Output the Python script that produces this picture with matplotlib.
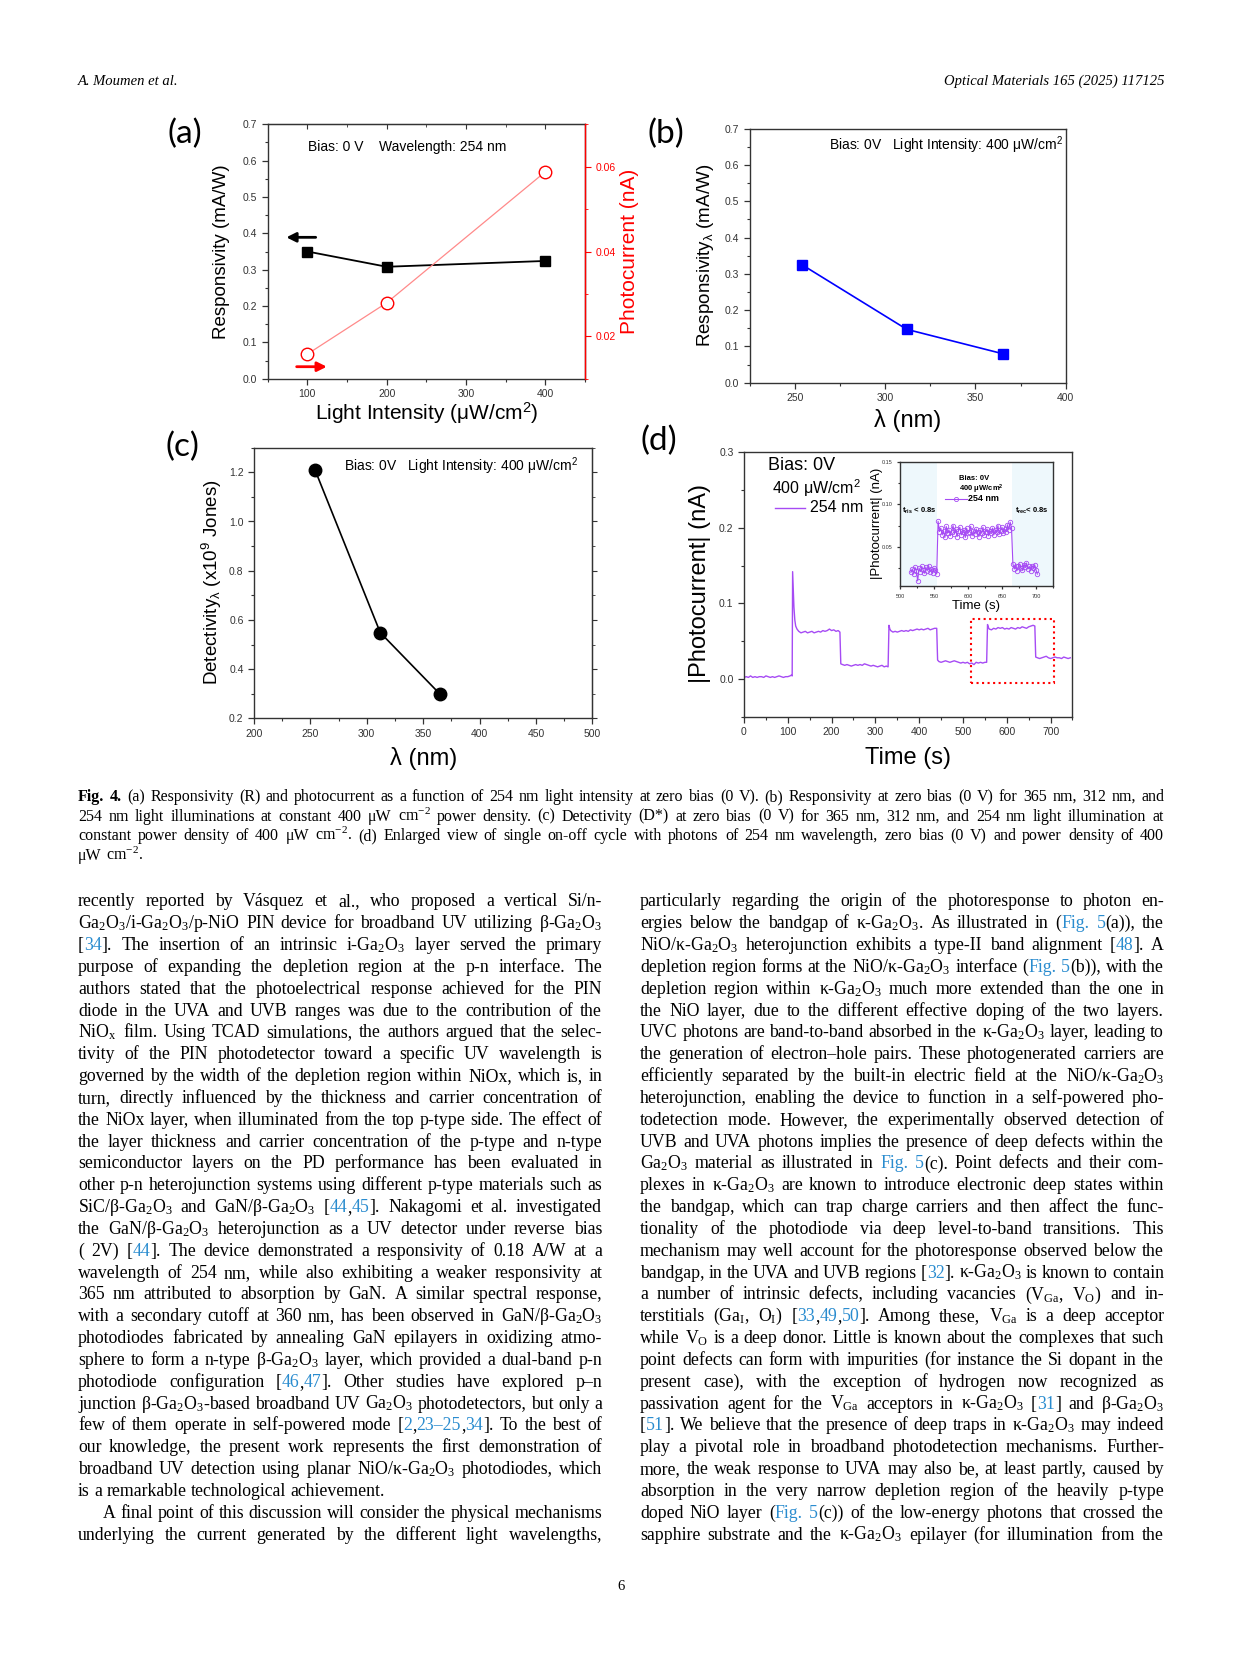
import matplotlib
matplotlib.use("Agg")
import matplotlib.pyplot as plt
from matplotlib.ticker import MultipleLocator
from matplotlib.patches import Rectangle
from matplotlib.lines import Line2D

plt.rcParams['font.family'] = ['Liberation Sans', 'DejaVu Sans']
plt.rcParams['mathtext.fontset'] = 'custom'
plt.rcParams['mathtext.rm'] = 'Liberation Sans'
plt.rcParams['mathtext.default'] = 'regular'

W, H = 1241, 1654
CITE = '#2a8ccf'
VIOLET = '#a64bf4'
SERIF = 'Liberation Serif'

# ---- data ----
intensity = [100, 200, 400]
resp_a = [0.350, 0.308, 0.324]
photo_a = [0.0158, 0.0279, 0.0588]

wavelength = [254, 312, 365]
resp_b = [0.325, 0.147, 0.080]
detect_c = [1.211, 0.548, 0.298]

d_time = [0, 5, 10, 15, 20, 25, 30, 35, 40, 45, 50, 55, 60, 65, 70, 75, 80, 85, 90, 95, 100, 105, 108,
          110, 111, 112, 114, 116, 118, 121, 125,
          130, 135, 140, 145, 150, 155, 160, 165, 170, 175, 180, 185, 190, 195, 200, 205, 210, 215, 219,
          221, 225, 230, 235, 240, 245, 250, 255, 260, 265, 270, 275, 280, 285, 290, 295, 300, 305, 310, 315,
          320, 325, 329,
          331, 333, 335, 340, 345, 350, 355, 360, 365, 370, 375, 380, 385, 390, 395, 400, 405, 410, 415, 420,
          425, 430, 435, 440,
          442, 445, 450, 455, 460, 465, 470, 475, 480, 485, 490, 495, 500, 505, 510, 515, 520, 525, 530, 535,
          540, 545, 550, 554,
          556, 558, 560, 565, 570, 575, 580, 585, 590, 595, 600, 605, 610, 615, 620, 625, 630, 635, 640, 645,
          650, 655, 660, 664,
          666, 670, 675, 680, 685, 690, 695, 700, 705, 710, 715, 720, 725, 730, 735, 740, 745]
d_current = [0.002, 0.003, 0.002, 0.004, 0.002, 0.003, 0.002, 0.003, 0.003, 0.002, 0.004, 0.003, 0.002, 0.003,
             0.002, 0.003, 0.004, 0.003, 0.002, 0.003, 0.003, 0.004, 0.005,
             0.004, 0.142, 0.125, 0.095, 0.078, 0.070, 0.066, 0.063,
             0.061, 0.062, 0.063, 0.061, 0.062, 0.063, 0.061, 0.062, 0.063, 0.062, 0.064, 0.063, 0.064, 0.066,
             0.064, 0.065, 0.063, 0.064, 0.062,
             0.020, 0.019, 0.018, 0.019, 0.018, 0.017, 0.018, 0.019, 0.018, 0.019, 0.018, 0.020, 0.019, 0.018,
             0.017, 0.018, 0.017, 0.016, 0.017, 0.018, 0.016, 0.017, 0.016,
             0.071, 0.066, 0.064, 0.062, 0.063, 0.062, 0.063, 0.064, 0.063, 0.064, 0.063, 0.065, 0.064, 0.065,
             0.066, 0.065, 0.066, 0.065, 0.066, 0.067, 0.065, 0.066, 0.067, 0.067,
             0.025, 0.023, 0.022, 0.023, 0.024, 0.023, 0.022, 0.023, 0.024, 0.023, 0.022, 0.021, 0.022, 0.021,
             0.022, 0.020, 0.021, 0.019, 0.022, 0.021, 0.022, 0.021, 0.022, 0.022,
             0.072, 0.068, 0.066, 0.065, 0.067, 0.066, 0.068, 0.067, 0.068, 0.066, 0.067, 0.066, 0.068, 0.067,
             0.066, 0.068, 0.067, 0.069, 0.068, 0.067, 0.069, 0.070, 0.071, 0.070,
             0.029, 0.028, 0.027, 0.028, 0.029, 0.030, 0.028, 0.027, 0.028, 0.029, 0.028, 0.028, 0.027, 0.029,
             0.028, 0.027, 0.028]

in_time = [516, 518, 520, 522, 524, 526, 528, 530, 532, 534, 536, 538, 540, 542, 544, 546, 548, 550, 552, 554,
           556, 558,
           560, 562, 564, 566, 568, 570, 572, 574, 576, 578, 580, 582, 584, 586, 588, 590, 592, 594, 596, 598,
           600, 602, 604, 606, 608, 610, 612, 614, 616, 618, 620, 622, 624, 626, 628, 630, 632, 634, 636, 638,
           640, 642, 644, 646, 648, 650, 652, 654, 656, 658, 660, 662, 664,
           666, 668, 670, 672, 674, 676, 678, 680, 682, 684, 686, 688, 690, 692, 694, 696, 698, 700, 702]
in_current = [0.020, 0.024, 0.018, 0.026, 0.022, 0.010, 0.025, 0.021, 0.027, 0.023, 0.019, 0.026, 0.022, 0.028,
              0.021, 0.024, 0.019, 0.025, 0.023, 0.018,
              0.080, 0.068,
              0.072, 0.064, 0.069, 0.061, 0.074, 0.066, 0.070, 0.063, 0.068, 0.075, 0.065, 0.071, 0.062, 0.069,
              0.073, 0.064, 0.067, 0.070, 0.061, 0.072, 0.066, 0.068, 0.074, 0.063, 0.069, 0.065, 0.071, 0.067,
              0.062, 0.070, 0.066, 0.073, 0.064, 0.068, 0.071, 0.063, 0.069, 0.066, 0.072, 0.064, 0.070, 0.067,
              0.075, 0.065, 0.069, 0.073, 0.066, 0.071, 0.068, 0.076, 0.070, 0.079, 0.072,
              0.030, 0.024, 0.028, 0.022, 0.027, 0.030, 0.025, 0.023, 0.029, 0.026, 0.031, 0.024, 0.027, 0.022,
              0.028, 0.025, 0.029, 0.023, 0.018]

zoom_box = (518, -0.006, 707, 0.0796)   # t0, y0, t1, y1 of the dotted frame

# ---- page text (one entry per printed line) ----
caption_lines = [
    "%Fig. 4.% (a) Responsivity (R) and photocurrent as a function of 254 nm light intensity at zero bias (0 V). (b) Responsivity at zero bias (0 V) for 365 nm, 312 nm, and",
    "254 nm light illuminations at constant 400 μW cm$^{-2}$ power density. (c) Detectivity (D*) at zero bias (0 V) for 365 nm, 312 nm, and 254 nm light illumination at",
    "constant power density of 400 μW cm$^{-2}$. (d) Enlarged view of single on-off cycle with photons of 254 nm wavelength, zero bias (0 V) and power density of 400",
    "μW cm$^{-2}$.",
]

left_lines = [
    "recently reported by Vásquez et al., who proposed a vertical Si/n-",
    "Ga$_2$O$_3$/i-Ga$_2$O$_3$/p-NiO PIN device for broadband UV utilizing β-Ga$_2$O$_3$",
    "[@34@]. The insertion of an intrinsic i-Ga$_2$O$_3$ layer served the primary",
    "purpose of expanding the depletion region at the p-n interface. The",
    "authors stated that the photoelectrical response achieved for the PIN",
    "diode in the UVA and UVB ranges was due to the contribution of the",
    "NiO$_x$ film. Using TCAD simulations, the authors argued that the selec-",
    "tivity of the PIN photodetector toward a specific UV wavelength is",
    "governed by the width of the depletion region within NiOx, which is, in",
    "turn, directly influenced by the thickness and carrier concentration of",
    "the NiOx layer, when illuminated from the top p-type side. The effect of",
    "the layer thickness and carrier concentration of the p-type and n-type",
    "semiconductor layers on the PD performance has been evaluated in",
    "other p-n heterojunction systems using different p-type materials such as",
    "SiC/β-Ga$_2$O$_3$ and GaN/β-Ga$_2$O$_3$ [@44@,@45@]. Nakagomi et al. investigated",
    "the GaN/β-Ga$_2$O$_3$ heterojunction as a UV detector under reverse bias",
    "( 2V) [@44@]. The device demonstrated a responsivity of 0.18 A/W at a",
    "wavelength of 254 nm, while also exhibiting a weaker responsivity at",
    "365 nm attributed to absorption by GaN. A similar spectral response,",
    "with a secondary cutoff at 360 nm, has been observed in GaN/β-Ga$_2$O$_3$",
    "photodiodes fabricated by annealing GaN epilayers in oxidizing atmo-",
    "sphere to form a n-type β-Ga$_2$O$_3$ layer, which provided a dual-band p-n",
    "photodiode configuration [@46@,@47@]. Other studies have explored p–n",
    "junction β-Ga$_2$O$_3$-based broadband UV Ga$_2$O$_3$ photodetectors, but only a",
    "few of them operate in self-powered mode [@2@,@23–25@,@34@]. To the best of",
    "our knowledge, the present work represents the first demonstration of",
    "broadband UV detection using planar NiO/κ-Ga$_2$O$_3$ photodiodes, which",
    "is a remarkable technological achievement.",
    "A final point of this discussion will consider the physical mechanisms",
    "underlying the current generated by the different light wavelengths,",
]
left_last = [27]      # paragraph ends: not justified
left_indent = [28]

right_lines = [
    "particularly regarding the origin of the photoresponse to photon en-",
    "ergies below the bandgap of κ-Ga$_2$O$_3$. As illustrated in (@Fig. 5@(a)), the",
    "NiO/κ-Ga$_2$O$_3$ heterojunction exhibits a type-II band alignment [@48@]. A",
    "depletion region forms at the NiO/κ-Ga$_2$O$_3$ interface (@Fig. 5@(b)), with the",
    "depletion region within κ-Ga$_2$O$_3$ much more extended than the one in",
    "the NiO layer, due to the different effective doping of the two layers.",
    "UVC photons are band-to-band absorbed in the κ-Ga$_2$O$_3$ layer, leading to",
    "the generation of electron–hole pairs. These photogenerated carriers are",
    "efficiently separated by the built-in electric field at the NiO/κ-Ga$_2$O$_3$",
    "heterojunction, enabling the device to function in a self-powered pho-",
    "todetection mode. However, the experimentally observed detection of",
    "UVB and UVA photons implies the presence of deep defects within the",
    "Ga$_2$O$_3$ material as illustrated in @Fig. 5@(c). Point defects and their com-",
    "plexes in κ-Ga$_2$O$_3$ are known to introduce electronic deep states within",
    "the bandgap, which can trap charge carriers and then affect the func-",
    "tionality of the photodiode via deep level-to-band transitions. This",
    "mechanism may well account for the photoresponse observed below the",
    "bandgap, in the UVA and UVB regions [@32@]. κ-Ga$_2$O$_3$ is known to contain",
    "a number of intrinsic defects, including vacancies (V$_{Ga}$, V$_{O}$) and in-",
    "terstitials (Ga$_{I}$, O$_{I}$) [@33@,@49@,@50@]. Among these, V$_{Ga}$ is a deep acceptor",
    "while V$_{O}$ is a deep donor. Little is known about the complexes that such",
    "point defects can form with impurities (for instance the Si dopant in the",
    "present case), with the exception of hydrogen now recognized as",
    "passivation agent for the V$_{Ga}$ acceptors in κ-Ga$_2$O$_3$ [@31@] and β-Ga$_2$O$_3$",
    "[@51@]. We believe that the presence of deep traps in κ-Ga$_2$O$_3$ may indeed",
    "play a pivotal role in broadband photodetection mechanisms. Further-",
    "more, the weak response to UVA may also be, at least partly, caused by",
    "absorption in the very narrow depletion region of the heavily p-type",
    "doped NiO layer (@Fig. 5@(c)) of the low-energy photons that crossed the",
    "sapphire substrate and the κ-Ga$_2$O$_3$ epilayer (for illumination from the",
]

fig = plt.figure(figsize=(W / 100, H / 100), dpi=100)
renderer = fig.canvas.get_renderer()


def rect(x0, y0, x1, y1):
    return [x0 / W, 1 - y1 / H, (x1 - x0) / W, (y1 - y0) / H]


def style(ax, size=7.5):
    for sp in ax.spines.values():
        sp.set_color('#333333')
        sp.set_linewidth(1.0)
    ax.tick_params(which='both', direction='out', colors='#333333', labelsize=size)
    ax.tick_params(which='major', length=4, width=0.9)
    ax.tick_params(which='minor', length=2.5, width=0.8)


def labels(ax, xl, yl, xpos, ypos, xs, ys):
    ax.set_xlabel(xl, fontsize=xs)
    ax.set_ylabel(yl, fontsize=ys)
    ax.xaxis.set_label_coords(*xpos)
    ax.yaxis.set_label_coords(*ypos)
    ax.xaxis.label.set_va('center')
    ax.yaxis.label.set_va('center')


# ---- (a) ----
ax = fig.add_axes(rect(267.7, 124.3, 585, 378.7))
style(ax)
ax.plot(intensity, resp_a, '-s', color='black', lw=1.3, ms=7.5, zorder=3)
ax.set_xlim(50, 450)
ax.set_ylim(0, 0.7)
ax.xaxis.set_major_locator(MultipleLocator(100))
ax.xaxis.set_minor_locator(MultipleLocator(50))
ax.yaxis.set_major_locator(MultipleLocator(0.1))
ax.yaxis.set_minor_locator(MultipleLocator(0.05))
ax.yaxis.set_major_formatter(lambda v, p: f"{v:.1f}")
top = ax.secondary_xaxis('top')
top.xaxis.set_major_locator(MultipleLocator(100))
top.xaxis.set_minor_locator(MultipleLocator(50))
top.tick_params(which='both', direction='in', labeltop=False, colors='#333333')
top.spines['top'].set_color('#333333')
labels(ax, "Light Intensity (μW/cm$^2$)", "Responsivity (mA/W)", (0.5, -0.135), (-0.145, 0.5), 15, 13.5)
ax.text(0.127, 0.912, "Bias: 0 V    Wavelength: 254 nm", transform=ax.transAxes, fontsize=10, va='center')
ax.annotate('', xy=(70, 0.389), xytext=(114, 0.389),
            arrowprops=dict(arrowstyle='-|>', color='black', lw=2, mutation_scale=14))
ax.annotate('', xy=(128, 0.033), xytext=(83, 0.033),
            arrowprops=dict(arrowstyle='-|>', color='red', lw=2, mutation_scale=14))
ax2 = ax.twinx()
ax2.plot(intensity, photo_a, '-o', color='#ff8a8a', lw=0.9, ms=9, mfc='white', mec='red', mew=1.0)
ax2.set_ylim(0.01, 0.07)
ax2.yaxis.set_major_locator(MultipleLocator(0.02))
ax2.yaxis.set_minor_locator(MultipleLocator(0.01))
ax2.yaxis.set_major_formatter(lambda v, p: f"{v:.2f}")
ax2.tick_params(which='both', direction='out', colors='red', labelsize=7.5)
ax2.tick_params(which='major', length=4)
ax2.tick_params(which='minor', length=2.5)
ax2.spines['right'].set_color('red')
ax2.spines['right'].set_linewidth(1.0)
for s in ('left', 'top', 'bottom'):
    ax2.spines[s].set_visible(False)
ax2.set_ylabel("Photocurrent (nA)", color='red', fontsize=15)
ax2.yaxis.set_label_coords(1.139, 0.5)
ax2.yaxis.label.set_va('center')

# ---- (b) ----
ax = fig.add_axes(rect(749.7, 128.7, 1065.7, 382.7))
style(ax)
ax.plot(wavelength, resp_b, '-s', color='#0000ff', lw=1.2, ms=7.5)
ax.set_xlim(225, 400)
ax.set_ylim(0, 0.7)
ax.xaxis.set_major_locator(MultipleLocator(50))
ax.xaxis.set_minor_locator(MultipleLocator(25))
ax.yaxis.set_major_locator(MultipleLocator(0.1))
ax.yaxis.set_minor_locator(MultipleLocator(0.05))
ax.yaxis.set_major_formatter(lambda v, p: f"{v:.1f}")
labels(ax, "λ (nm)", "Responsivity$_λ$ (mA/W)", (0.5, -0.147), (-0.141, 0.503), 17, 13.5)
ax.text(0.99, 0.936, "Bias: 0V   Light Intensity: 400 μW/cm$^2$", transform=ax.transAxes,
        fontsize=10, va='center', ha='right')

# ---- (c) ----
ax = fig.add_axes(rect(254, 447.7, 592.3, 718.3))
style(ax)
ax.plot(wavelength, detect_c, '-o', color='black', lw=1.2, ms=9)
ax.set_xlim(200, 500)
ax.set_ylim(0.2, 1.3)
ax.xaxis.set_major_locator(MultipleLocator(50))
ax.xaxis.set_minor_locator(MultipleLocator(25))
ax.yaxis.set_major_locator(MultipleLocator(0.2))
ax.yaxis.set_minor_locator(MultipleLocator(0.1))
ax.yaxis.set_major_formatter(lambda v, p: f"{v:.1f}")
rsec = ax.secondary_yaxis('right')
rsec.yaxis.set_major_locator(MultipleLocator(0.2))
rsec.yaxis.set_minor_locator(MultipleLocator(0.1))
rsec.tick_params(which='both', direction='out', labelright=False, colors='#333333')
rsec.spines['right'].set_color('#333333')
labels(ax, "λ (nm)", "Detectivity$_λ$ (x10$^9$ Jones)", (0.5, -0.147), (-0.124, 0.504), 17, 13.5)
ax.text(0.266, 0.93, "Bias: 0V   Light Intensity: 400 μW/cm$^2$", transform=ax.transAxes,
        fontsize=10, va='center')

# ---- (d) ----
ax = fig.add_axes(rect(744, 452.3, 1072.5, 716.7))
style(ax)
ax.plot(d_time, d_current, '-', color=VIOLET, lw=1.0)
ax.set_xlim(0, 750)
ax.set_ylim(-0.05, 0.3)
ax.xaxis.set_major_locator(MultipleLocator(100))
ax.xaxis.set_minor_locator(MultipleLocator(50))
ax.yaxis.set_major_locator(MultipleLocator(0.1))
ax.yaxis.set_minor_locator(MultipleLocator(0.05))
ax.yaxis.set_major_formatter(lambda v, p: f"{v:.1f}")
labels(ax, "Time (s)", "|Photocurrent| (nA)", (0.5, -0.156), (-0.134, 0.504), 17, 17)
ax.add_patch(Rectangle((zoom_box[0], zoom_box[1]), zoom_box[2] - zoom_box[0], zoom_box[3] - zoom_box[1],
                       fill=False, ec='red', ls=':', lw=1.5))
ax.text(0.073, 0.949, "Bias: 0V", transform=ax.transAxes, fontsize=13, va='center')
ax.text(0.085, 0.865, "400 μW/cm$^2$", transform=ax.transAxes, fontsize=11.5, va='center')
ax.add_line(Line2D([0.094, 0.186], [0.790, 0.790], transform=ax.transAxes, color=VIOLET, lw=1.0))
ax.text(0.201, 0.790, "254 nm", transform=ax.transAxes, fontsize=11.5, va='center')

# inset
axi = fig.add_axes(rect(900, 461.7, 1053, 586))
style(axi, size=4)
axi.tick_params(which='major', length=2)
axi.tick_params(which='minor', length=1.2)
axi.axvspan(500, 555, color='#eef8fc', lw=0, zorder=0)
axi.axvspan(665, 725, color='#eef8fc', lw=0, zorder=0)
axi.plot(in_time, in_current, '-o', color=VIOLET, lw=0.8, ms=3.2, mfc='none', mew=0.6)
axi.set_xlim(500, 725)
axi.set_ylim(0.004, 0.15)
axi.xaxis.set_major_locator(MultipleLocator(50))
axi.xaxis.set_minor_locator(MultipleLocator(25))
axi.yaxis.set_major_locator(MultipleLocator(0.05))
axi.yaxis.set_minor_locator(MultipleLocator(0.025))
axi.yaxis.set_major_formatter(lambda v, p: f"{v:.2f}")
labels(axi, "Time (s)", "|Photocurrent| (nA)", (0.5, -0.161), (-0.15, 0.503), 9.5, 9.5)
axi.text(0.386, 0.861, "Bias: 0V", transform=axi.transAxes, fontsize=5.5, fontweight='bold', va='center')
axi.text(0.386, 0.781, "400 μW/cm$^2$", transform=axi.transAxes, fontsize=5.5, fontweight='bold', va='center')
axi.add_line(Line2D([0.294, 0.438], [0.70, 0.70], transform=axi.transAxes, color=VIOLET, lw=0.8))
axi.add_line(Line2D([0.366], [0.70], transform=axi.transAxes, color=VIOLET, marker='o', ms=3,
                    mfc='none', mew=0.6))
axi.text(0.444, 0.70, "254 nm", transform=axi.transAxes, fontsize=6.5, fontweight='bold', va='center')
axi.text(0.013, 0.603, "t$_{ris}$ < 0.8s", transform=axi.transAxes, fontsize=5.5, fontweight='bold', va='center')
axi.text(0.97, 0.603, "t$_{rec}$< 0.8s", transform=axi.transAxes, fontsize=5.5, fontweight='bold',
         va='center', ha='right')

# panel letters
for lab, (px, py) in {"(a)": (185, 134), "(b)": (666, 134), "(c)": (182, 447), "(d)": (659, 441)}.items():
    fig.text(px / W, 1 - py / H, lab, fontsize=24, family='Lato', ha='center', va='center')


# ---- page text ----
def parse(line):
    words, cur, buf = [], [], ''
    blue = bold = False
    for ch in line:
        if ch in '@%':
            if buf:
                cur.append((buf, blue, bold))
                buf = ''
            if ch == '@':
                blue = not blue
            else:
                bold = not bold
        elif ch == ' ':
            if buf:
                cur.append((buf, blue, bold))
                buf = ''
            if cur:
                words.append(cur)
                cur = []
        else:
            buf += ch
    if buf:
        cur.append((buf, blue, bold))
    if cur:
        words.append(cur)
    return words


def make_words(line, y, size):
    items = []
    for w in parse(line):
        parts = []
        for s, blue, bold in w:
            t = fig.text(0, 1 - y / H, s, fontsize=size, family=SERIF,
                         color=CITE if blue else 'black', fontweight='bold' if bold else 'normal',
                         va='baseline', ha='left')
            parts.append((t, t.get_window_extent(renderer).width))
        items.append(parts)
    return items


def set_line(line, x0, x1, y, size, justify=True, min_gap=0.2):
    items = make_words(line, y, size)
    widths = [sum(p[1] for p in parts) for parts in items]
    n = len(items)
    em = size * 100 / 72
    if justify and n > 1 and sum(widths) + (n - 1) * min_gap * em > x1 - x0:
        # line too long at this size: shrink it just enough
        for parts in items:
            for t, _ in parts:
                t.remove()
        size = (x1 - x0) / (sum(widths) / size + (n - 1) * min_gap * 100 / 72)
        items = make_words(line, y, size)
        widths = [sum(p[1] for p in parts) for parts in items]
    if justify and n > 1:
        gap = max((x1 - x0 - sum(widths)) / (n - 1), 1.5)
    else:
        gap = size * 100 / 72 * 0.25
    x = x0
    for parts in items:
        for t, wpx in parts:
            t.set_x(x / W)
            x += wpx
        x += gap
    return size


cap_size = 11.5
for i, line in enumerate(caption_lines[:-1]):
    cap_size = min(cap_size, set_line(line, 78, 1164, 801 + i * 19.7, 11.5))
set_line(caption_lines[-1], 78, 1164, 801 + 3 * 19.7, cap_size, justify=False)

for i, line in enumerate(left_lines):
    x0 = 78 + (25 if i in left_indent else 0)
    set_line(line, x0, 602, 906.5 + i * 21.83, 12.8, justify=(i not in left_last))
for i, line in enumerate(right_lines):
    set_line(line, 640, 1164, 906.5 + i * 21.83, 12.8)

fig.text(78 / W, 1 - 85 / H, "A. Moumen et al.", fontsize=10.5, family=SERIF, style='italic',
         va='baseline')
fig.text(1164 / W, 1 - 85 / H, "Optical Materials 165 (2025) 117125", fontsize=10.5, family=SERIF,
         style='italic', va='baseline', ha='right')
fig.text(621.5 / W, 1 - 1590 / H, "6", fontsize=10.5, family=SERIF, va='baseline', ha='center')

fig.savefig('out.png', dpi=100)
